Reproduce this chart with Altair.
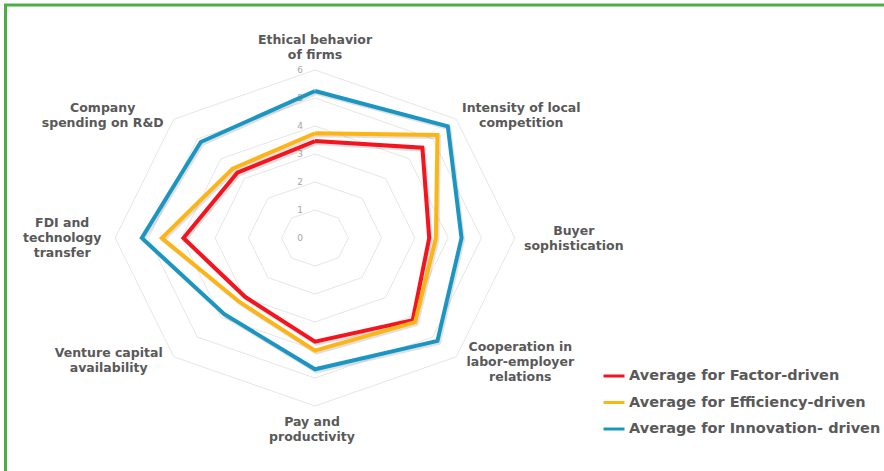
import math
import altair as alt
import pandas as pd

# ---------------- data ----------------
categories = [
    "Ethical behavior of firms",
    "Intensity of local competition",
    "Buyer sophistication",
    "Cooperation in labor-employer relations",
    "Pay and productivity",
    "Venture capital availability",
    "FDI and technology transfer",
    "Company spending on R&D",
]
category_labels = [
    "Ethical behavior\nof firms",
    "Intensity of local\ncompetition",
    "Buyer\nsophistication",
    "Cooperation in\nlabor-employer\nrelations",
    "Pay and\nproductivity",
    "Venture capital\navailability",
    "FDI and\ntechnology\ntransfer",
    "Company\nspending on R&D",
]
series = [
    "Average for Factor-driven",
    "Average for Efficiency-driven",
    "Average for Innovation- driven",
]
factor_driven = [3.46, 4.56, 3.43, 4.15, 3.70, 2.97, 3.95, 3.30]
efficiency_driven = [3.74, 5.20, 3.63, 4.25, 4.02, 3.22, 4.60, 3.50]
innovation_driven = [5.25, 5.64, 4.40, 5.20, 4.69, 3.85, 5.20, 4.85]
tick_values = [0, 1, 2, 3, 4, 5, 6]
axis_max = 6

# ---------------- style / layout ----------------
colors = ["#F5141E", "#FDB515", "#1B96C2"]
W, H = 884, 471
CX, CY = 315, 238          # pixel centre of the radar
UX, UY = 33.3, 28.0        # pixels per unit (horizontal, vertical)
FONT = "DejaVu Sans"
TXT = "#595959"
LH = 15                    # label line height
# label block-centre offsets from the end of each axis (pixels)
label_offsets = [(0, -23), (65, -4), (59, 0), (64, 5), (-3, 23), (-65, 4), (-53, 0), (-71, -4)]

n = len(categories)
ang = [2 * math.pi * i / n for i in range(n)]

rows = []
for s, vals in zip(series, [factor_driven, efficiency_driven, innovation_driven]):
    for k in range(n + 1):
        i = k % n
        rows.append({"series": s, "order": k, "category": categories[i],
                     "value": vals[i],
                     "x": vals[i] * math.sin(ang[i]),
                     "y": vals[i] * math.cos(ang[i])})
df = pd.DataFrame(rows)

grid = []
for lv in tick_values[1:]:
    for k in range(n + 1):
        i = k % n
        grid.append({"level": lv, "order": k,
                     "x": lv * math.sin(ang[i]), "y": lv * math.cos(ang[i])})
gdf = pd.DataFrame(grid)

xs = alt.Scale(domain=[-CX / UX, (W - CX) / UX], nice=False, zero=False)
ys = alt.Scale(domain=[-(H - CY) / UY, CY / UY], nice=False, zero=False)
X = lambda f="x": alt.X(f"{f}:Q", scale=xs, axis=None)
Y = lambda f="y": alt.Y(f"{f}:Q", scale=ys, axis=None)

grid_layer = alt.Chart(gdf).mark_line(color="#E6E6E6", strokeWidth=1).encode(
    x=X(), y=Y(), detail="level:N", order="order:Q")

tick_df = pd.DataFrame({"v": tick_values, "x": [0] * len(tick_values)})
tick_layer = alt.Chart(tick_df).mark_text(
    dx=-15, fontSize=9, color="#A6A6A6", font=FONT).encode(
    x=X(), y=Y("v"), text="v:Q")

shadow = alt.Chart(df).transform_calculate(
    sx=f"datum.x + {1.5 / UX}", sy=f"datum.y - {2.0 / UY}").mark_line(
    strokeWidth=4, color="#000000", opacity=0.12, strokeJoin="miter").encode(
    x=X("sx"), y=Y("sy"), detail="series:N", order="order:Q")

lines = alt.Chart(df).mark_line(strokeWidth=4, strokeJoin="miter").encode(
    x=X(), y=Y(), order="order:Q",
    color=alt.Color("series:N", scale=alt.Scale(domain=series, range=colors),
                    legend=alt.Legend(title=None, orient="none", legendX=602, legendY=364,
                                      symbolType="stroke", symbolSize=440,
                                      symbolStrokeWidth=3, labelFontSize=14.5,
                                      labelColor=TXT, labelFont=FONT,
                                      labelFontWeight="bold", rowPadding=7.5,
                                      labelOffset=3, padding=0, labelLimit=400)))

label_layers = []
for i, (lab, (dx, dy)) in enumerate(zip(category_labels, label_offsets)):
    nl = lab.count("\n")
    ldf = pd.DataFrame({"label": [lab],
                        "x": [axis_max * math.sin(ang[i])],
                        "y": [axis_max * math.cos(ang[i])]})
    label_layers.append(alt.Chart(ldf).mark_text(
        dx=dx, dy=dy - nl * LH / 2, align="center", baseline="middle", lineBreak="\n",
        lineHeight=LH, fontSize=12.5, fontWeight="bold", color=TXT, font=FONT).encode(
        x=X(), y=Y(), text="label:N"))

border_top = alt.Chart(pd.DataFrame({"a": [0]})).mark_rule(
    color="#4CAF45", strokeWidth=3).encode(x=alt.value(4), x2=alt.value(W), y=alt.value(5))
border_left = alt.Chart(pd.DataFrame({"a": [0]})).mark_rule(
    color="#4CAF45", strokeWidth=3).encode(x=alt.value(5.5), y=alt.value(4), y2=alt.value(H))

chart = alt.layer(grid_layer, tick_layer, shadow, lines, *label_layers,
                  border_top, border_left).properties(
    width=W, height=H, padding=0,
    autosize=alt.AutoSizeParams(type="none"), background="white",
).configure_view(stroke=None)

chart.save("out.html", embed_options={"renderer": "svg", "actions": False})
